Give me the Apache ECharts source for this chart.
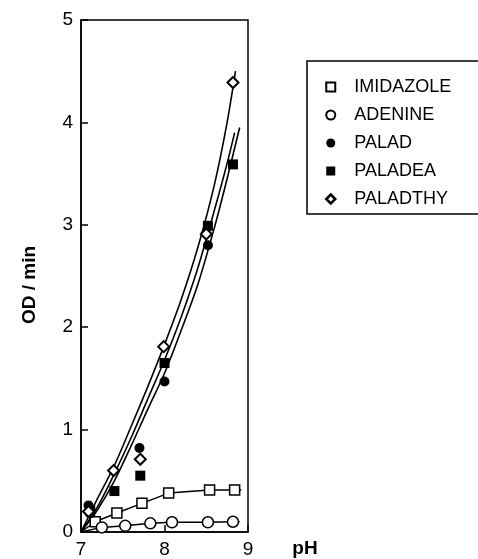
<!DOCTYPE html>
<html>
<head>
<meta charset="utf-8">
<script src="https://cdn.jsdelivr.net/npm/echarts@6/dist/echarts.min.js"></script>
<style>
html,body{margin:0;padding:0;background:#fff;}
#chart{width:478px;height:559px;}
</style>
</head>
<body>
<div id="chart"></div>
<script>
// ---- data ----
var xTicks = [7, 8, 9];
var yTicks = [0, 1, 2, 3, 4, 5];
var seriesNames = ['IMIDAZOLE', 'ADENINE', 'PALAD', 'PALADEA', 'PALADTHY'];

var imidazole = [[7.17,0.10],[7.43,0.185],[7.73,0.28],[8.05,0.38],[8.54,0.41],[8.84,0.41]];
var imidazoleLineStart = [7.0, 0.0];
var imidazoleLineEnd = [8.92, 0.41];

var adenine = [[7.25,0.045],[7.53,0.06],[7.83,0.085],[8.09,0.095],[8.52,0.095],[8.82,0.10]];
var adenineLineStart = [7.0, 0.0];
var adenineLineEnd = [8.9, 0.10];

var palad = [[7.09,0.26],[7.11,0.18],[7.70,0.82],[8.0,1.47],[8.52,2.80]];
var paladea = [[7.11,0.21],[7.40,0.40],[7.71,0.55],[8.0,1.65],[8.52,2.99],[8.82,3.59]];
var paladthy = [[7.09,0.20],[7.39,0.60],[7.71,0.71],[7.99,1.81],[8.50,2.91],[8.82,4.39]];

// fitted curves
var curveA = [[7.0,0],[7.2,0.33],[7.4,0.65],[7.6,1.03],[7.8,1.42],[8.0,1.83],[8.2,2.27],[8.4,2.78],[8.6,3.4],[8.75,4.0],[8.85,4.5]];
var curveB = [[7.0,0],[7.2,0.25],[7.4,0.57],[7.6,0.92],[7.8,1.3],[8.0,1.68],[8.2,2.1],[8.4,2.58],[8.6,3.15],[8.75,3.6],[8.84,3.9]];
var curveC = [[7.0,0],[7.2,0.22],[7.4,0.5],[7.6,0.84],[7.8,1.2],[8.0,1.55],[8.2,1.97],[8.4,2.42],[8.6,2.98],[8.75,3.45],[8.9,3.95]];

// ---- chart ----
var FONT = '"Liberation Sans", Arial, Helvetica, sans-serif';
var DIAMOND = 'path://M0,-10L10,0L0,10L-10,0Z';

function withEnds(start, pts, end) {
  var d = [{value: start, symbol: 'none'}];
  pts.forEach(function (p) { d.push({value: p}); });
  d.push({value: end, symbol: 'none'});
  return d;
}

var chart = echarts.init(document.getElementById('chart'), null, {renderer: 'canvas'});

var curveStyle = {color: '#000', width: 1.6};
function curve(data) {
  return {
    type: 'line', data: data, showSymbol: false, symbol: 'none', silent: true,
    smooth: 0.3, lineStyle: curveStyle, z: 2
  };
}

var option = {
  animation: false,
  backgroundColor: '#fff',
  grid: {left: 81, top: 20, width: 167, height: 513, show: true, borderColor: '#000', borderWidth: 1.5, backgroundColor: 'transparent'},
  xAxis: {
    type: 'value', min: xTicks[0], max: xTicks[xTicks.length - 1], interval: 1,
    axisLine: {show: true, onZero: false, lineStyle: {color: '#000', width: 1.5}},
    axisTick: {show: true, inside: true, length: 7, lineStyle: {color: '#000', width: 1.5}},
    axisLabel: {color: '#000', fontSize: 19, fontFamily: FONT, margin: 8},
    splitLine: {show: false}
  },
  yAxis: {
    type: 'value', min: yTicks[0], max: yTicks[yTicks.length - 1], interval: 1,
    axisLine: {show: true, lineStyle: {color: '#000', width: 1.5}},
    axisTick: {show: true, inside: true, length: 7, lineStyle: {color: '#000', width: 1.5}},
    axisLabel: {color: '#000', fontSize: 19, fontFamily: FONT, margin: 8},
    splitLine: {show: false}
  },
  legend: {
    orient: 'vertical', left: 320, top: 73, itemGap: 10, itemWidth: 9, itemHeight: 9,
    textStyle: {color: '#000', fontSize: 18, fontFamily: FONT, padding: [0, 0, 0, 14]},
    selectedMode: false,
    data: [
      {name: seriesNames[0], icon: 'rect', itemStyle: {color: '#fff', borderColor: '#000', borderWidth: 2}},
      {name: seriesNames[1], icon: 'circle', itemStyle: {color: '#fff', borderColor: '#000', borderWidth: 2}},
      {name: seriesNames[2], icon: 'circle', itemStyle: {color: '#000', borderColor: '#000', borderWidth: 0}},
      {name: seriesNames[3], icon: 'rect', itemStyle: {color: '#000', borderColor: '#000', borderWidth: 0}},
      {name: seriesNames[4], icon: DIAMOND, itemStyle: {color: '#fff', borderColor: '#000', borderWidth: 2.5}}
    ]
  },
  graphic: [
    {type: 'rect', shape: {x: 307, y: 61, width: 180, height: 153}, style: {fill: 'none', stroke: '#000', lineWidth: 1.5}, z: -1},
    {type: 'text', x: 305, y: 549, style: {text: 'pH', font: 'bold 19px ' + FONT, fill: '#000', textAlign: 'center', textVerticalAlign: 'middle'}},
    {type: 'text', x: 30, y: 285, rotation: Math.PI / 2, style: {text: 'OD / min', font: 'bold 19px ' + FONT, fill: '#000', textAlign: 'center', textVerticalAlign: 'middle'}}
  ],
  series: [
    curve(curveA), curve(curveB), curve(curveC),
    {
      name: seriesNames[0], type: 'line', data: withEnds(imidazoleLineStart, imidazole, imidazoleLineEnd),
      symbol: 'rect', symbolSize: 10, showAllSymbol: true,
      itemStyle: {color: '#fff', borderColor: '#000', borderWidth: 1.5},
      lineStyle: {color: '#000', width: 1.5}, z: 3
    },
    {
      name: seriesNames[1], type: 'line', data: withEnds(adenineLineStart, adenine, adenineLineEnd),
      symbol: 'circle', symbolSize: 11, showAllSymbol: true,
      itemStyle: {color: '#fff', borderColor: '#000', borderWidth: 1.5},
      lineStyle: {color: '#000', width: 1.5}, z: 3
    },
    {
      name: seriesNames[2], type: 'scatter', data: palad, symbol: 'circle', symbolSize: 10,
      itemStyle: {color: '#000', opacity: 1}, z: 4
    },
    {
      name: seriesNames[3], type: 'scatter', data: paladea, symbol: 'rect', symbolSize: 10,
      itemStyle: {color: '#000', opacity: 1}, z: 4
    },
    {
      name: seriesNames[4], type: 'scatter', data: paladthy, symbol: DIAMOND, symbolSize: 11,
      itemStyle: {color: '#fff', borderColor: '#000', borderWidth: 2, opacity: 1}, z: 5
    }
  ]
};
chart.setOption(option);
</script>
</body>
</html>
